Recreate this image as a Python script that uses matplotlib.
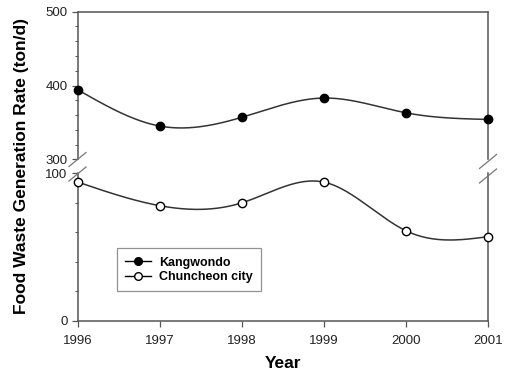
import numpy as np
import matplotlib
matplotlib.use("Agg")
import matplotlib.pyplot as plt
from matplotlib.lines import Line2D

plt.rcParams['font.family'] = ['Liberation Sans', 'DejaVu Sans']

# Annual food waste generation (ton/d)
years = [1996, 1997, 1998, 1999, 2000, 2001]
kangwondo = [394, 345, 357, 383, 363, 354]
chuncheon = [94, 78, 80, 94, 61, 57]
year_labels = ['1996', '1997', '1998', '1999', '2000', '2001']


def natural_spline(x, y, n=300):
    """Natural cubic spline through (x, y) for a smooth connecting curve."""
    x = np.asarray(x, float)
    y = np.asarray(y, float)
    m = len(x)
    h = np.diff(x)
    A = np.zeros((m, m))
    b = np.zeros(m)
    A[0, 0] = A[-1, -1] = 1.0
    for i in range(1, m - 1):
        A[i, i - 1] = h[i - 1]
        A[i, i] = 2 * (h[i - 1] + h[i])
        A[i, i + 1] = h[i]
        b[i] = 6 * ((y[i + 1] - y[i]) / h[i] - (y[i] - y[i - 1]) / h[i - 1])
    M = np.linalg.solve(A, b)
    xs = np.linspace(x[0], x[-1], n)
    idx = np.clip(np.searchsorted(x, xs) - 1, 0, m - 2)
    x0, x1 = x[idx], x[idx + 1]
    hh = x1 - x0
    t0 = x1 - xs
    t1 = xs - x0
    ys = (M[idx] * t0 ** 3 / (6 * hh) + M[idx + 1] * t1 ** 3 / (6 * hh)
          + (y[idx] / hh - M[idx] * hh / 6) * t0
          + (y[idx + 1] / hh - M[idx + 1] * hh / 6) * t1)
    return xs, ys


W, H = 506, 373
fig = plt.figure(figsize=(W / 100, H / 100), dpi=100)

left, right = 78 / W, 488 / W
up_top, up_bot = 11.7, 159.3
lo_top, lo_bot = 173.3, 320.7

ax_up = fig.add_axes([left, 1 - up_bot / H, right - left, (up_bot - up_top) / H])
ax_lo = fig.add_axes([left, 1 - lo_bot / H, right - left, (lo_bot - lo_top) / H])

spine_col = '#555555'
line_col = '#333333'

for ax in (ax_up, ax_lo):
    ax.set_xlim(1996, 2001)
    for s in ax.spines.values():
        s.set_color(spine_col)
        s.set_linewidth(1.1)
    ax.tick_params(axis='both', which='major', direction='out', length=4,
                   width=0.9, color=spine_col, labelsize=9.5, pad=3.5,
                   labelcolor='#222222')
    ax.tick_params(axis='y', which='minor', direction='out', length=2,
                   width=0.7, color=spine_col)

ax_up.set_ylim(300, 500)
ax_up.set_yticks([300, 400, 500])
ax_up.set_yticks(np.arange(300, 501, 20), minor=True)
ax_up.spines['bottom'].set_visible(False)
ax_up.tick_params(axis='x', which='both', bottom=False, labelbottom=False)

ax_lo.set_ylim(0, 100)
ax_lo.set_yticks([0, 100])
ax_lo.set_yticks(np.arange(0, 101, 20), minor=True)
ax_lo.spines['top'].set_visible(False)
ax_lo.set_xticks(years)
ax_lo.set_xticklabels(year_labels)
ax_lo.tick_params(axis='x', pad=6)

# Kangwondo (filled markers, upper scale)
xs, ys = natural_spline(years, kangwondo)
ax_up.plot(xs, ys, color=line_col, lw=1.1, clip_on=False)
ax_up.plot(years, kangwondo, 'o', color='black', ms=6, clip_on=False, zorder=5)

# Chuncheon city (open markers, lower scale)
xs, ys = natural_spline(years, chuncheon)
ax_lo.plot(xs, ys, color=line_col, lw=1.1, clip_on=False)
ax_lo.plot(years, chuncheon, 'o', mfc='white', mec='black', mew=1.0, ms=6,
           clip_on=False, zorder=5)

# Legend built from proxy handles
h1 = Line2D([], [], color='black', lw=1.0, marker='o', ms=5.5, mfc='black')
h2 = Line2D([], [], color='black', lw=1.0, marker='o', ms=5.5, mfc='white',
            mec='black')
leg = ax_lo.legend([h1, h2], ['Kangwondo', 'Chuncheon city'],
                   loc='upper left', bbox_to_anchor=(0.095, 0.49),
                   borderaxespad=0, fancybox=False, frameon=True,
                   handlelength=2.1, handletextpad=0.6, labelspacing=0.2,
                   borderpad=0.65, prop={'weight': 'bold', 'size': 9})
leg.get_frame().set_edgecolor('#777777')
leg.get_frame().set_linewidth(0.9)

# Axis break marks on both sides
def brk(xc, yc):
    fig.add_artist(Line2D([(xc - 8.5) / W, (xc + 8.5) / W],
                          [1 - (yc + 7) / H, 1 - (yc - 7) / H],
                          color='#777777', lw=0.9))

brk(77.5, 159.5)
brk(77.5, 174)
brk(488, 161.5)
brk(488, 176)

fig.text(22 / W, 1 - 166 / H, 'Food Waste Generation Rate (ton/d)',
         rotation=90, ha='center', va='center', fontsize=12.5,
         fontweight='bold')
fig.text(283 / W, 1 - 364 / H, 'Year', ha='center', va='center',
         fontsize=12.5, fontweight='bold')

fig.savefig('out.png', dpi=100)
